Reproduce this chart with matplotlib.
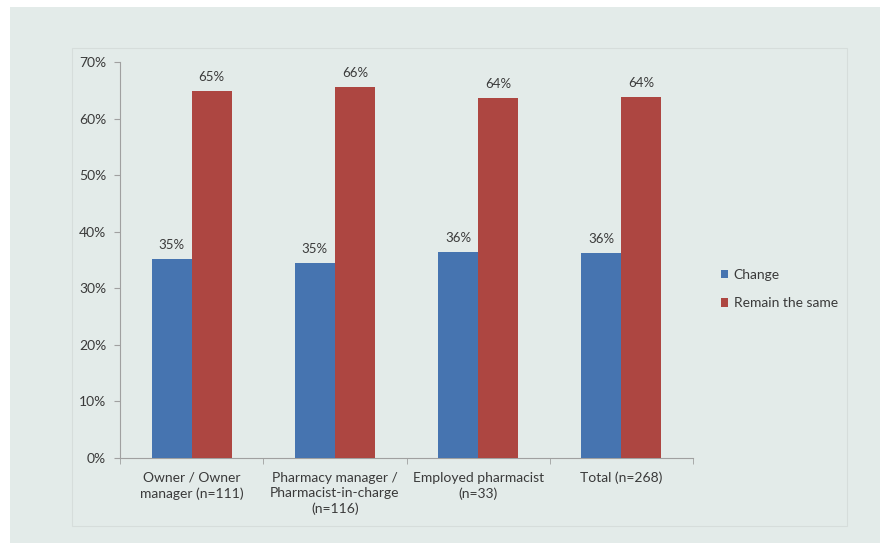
import matplotlib.pyplot as plt
from matplotlib.patches import Rectangle
import numpy as np

categories = ["Owner / Owner\nmanager (n=111)",
              "Pharmacy manager /\nPharmacist-in-charge\n(n=116)",
              "Employed pharmacist\n(n=33)",
              "Total (n=268)"]
change = [35.2, 34.4, 36.4, 36.2]
remain = [64.8, 65.6, 63.6, 63.8]
change_labels = ["35%", "35%", "36%", "36%"]
remain_labels = ["65%", "66%", "64%", "64%"]
yticks = [0, 10, 20, 30, 40, 50, 60, 70]

plt.rcParams['font.family'] = ['Lato', 'DejaVu Sans']
blue = '#4674b0'
red = '#ad4641'
bg = '#e3ebe9'
txt = '#3a3a3a'

fig = plt.figure(figsize=(8.84, 5.43), dpi=100)
fig.patch.set_facecolor('white')
W, H = 884, 543
# outer grey panel and faint chart-area box, kept behind the axes
fig.patches.append(Rectangle((10 / W, -0.01), 870 / W, 536 / H + 0.01,
                             transform=fig.transFigure, facecolor=bg,
                             edgecolor='none', zorder=-2))
fig.patches.append(Rectangle((72 / W, 1 - 526 / H), 775 / W, 478 / H,
                             transform=fig.transFigure, facecolor='none',
                             edgecolor='#d6dddb', lw=0.8, zorder=-1))

ax = fig.add_axes([120 / W, 1 - 458 / H, 573 / W, 396 / H])
ax.set_facecolor('none')

x = np.arange(len(categories))
w = 0.28
b1 = ax.bar(x - w / 2, change, w, color=blue, label='Change', zorder=3)
b2 = ax.bar(x + w / 2, remain, w, color=red, label='Remain the same', zorder=3)

for bars, labs in ((b1, change_labels), (b2, remain_labels)):
    for r, lab in zip(bars, labs):
        ax.annotate(lab, (r.get_x() + r.get_width() / 2, r.get_height()),
                    xytext=(0, 6), textcoords='offset points',
                    ha='center', va='bottom', fontsize=9.5, color=txt)

ax.set_xlim(-0.5, len(categories) - 0.5)
ax.set_ylim(0, 70)
ax.set_yticks(yticks)
ax.set_yticklabels([f"{t}%" for t in yticks], fontsize=10, color=txt)
ax.set_xticks(x)
ax.set_xticklabels(categories, fontsize=10, color=txt, linespacing=1.3)
ax.set_xticks(np.arange(len(categories) + 1) - 0.5, minor=True)
ax.tick_params(axis='x', which='major', length=0, pad=10)
ax.tick_params(axis='x', which='minor', length=4, color='#a0a0a0')
ax.tick_params(axis='y', length=4, color='#a0a0a0', pad=6)
for s in ('top', 'right'):
    ax.spines[s].set_visible(False)
for s in ('left', 'bottom'):
    ax.spines[s].set_color('#a0a0a0')

leg = fig.legend(handles=[b1, b2], loc='center left',
                 bbox_to_anchor=(708 / W, 1 - 289 / H), frameon=False,
                 fontsize=10, handlelength=0.55, handleheight=0.55,
                 handletextpad=0.4, labelspacing=1.2)
for t in leg.get_texts():
    t.set_color(txt)

fig.savefig('out.png', dpi=100)
